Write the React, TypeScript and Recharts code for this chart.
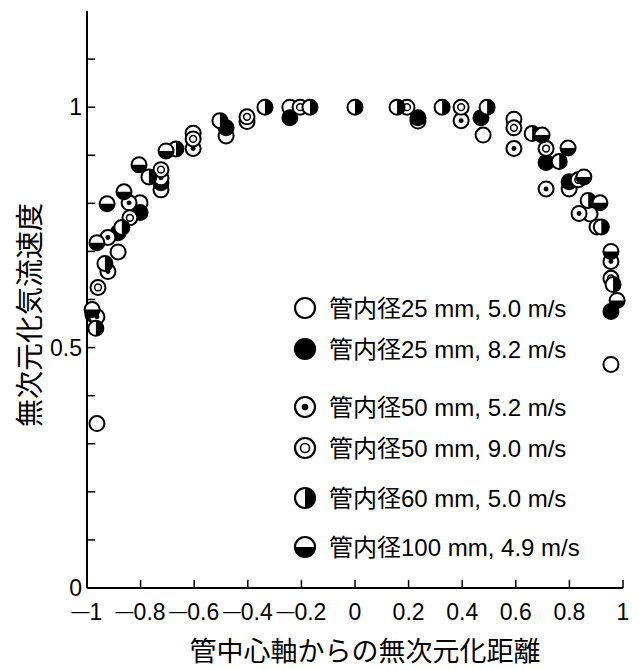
import React from 'react';
import { ScatterChart, Scatter, XAxis, YAxis } from 'recharts';

// 無次元化距離 x, 無次元化気流速度 y
const pipe25v50 = [
  [-0.963, 0.342], [-0.884, 0.699], [-0.802, 0.801], [-0.724, 0.828], [-0.604, 0.946],
  [-0.481, 0.94], [-0.243, 1.0], [0.235, 0.971], [0.478, 0.942], [0.593, 0.975],
  [0.799, 0.83], [0.877, 0.778], [0.903, 0.751], [0.955, 0.465],
];
const pipe25v82 = [
  [-0.978, 0.569], [-0.884, 0.739], [-0.802, 0.781], [-0.724, 0.843], [-0.481, 0.957],
  [-0.243, 0.978], [0.235, 0.978], [0.47, 0.978], [0.713, 0.885], [0.799, 0.845], [0.955, 0.575],
];
const pipe50v52 = [
  [-0.963, 0.564], [-0.922, 0.658], [-0.922, 0.729], [-0.843, 0.801], [-0.724, 0.853],
  [-0.604, 0.914], [-0.403, 0.97], [0.396, 0.972], [0.593, 0.914], [0.713, 0.83],
  [0.836, 0.779], [0.955, 0.679],
];
const pipe50v90 = [
  [-0.959, 0.625], [-0.84, 0.77], [-0.724, 0.87], [-0.604, 0.934], [-0.403, 0.98],
  [-0.205, 1.0], [0.194, 1.0], [0.396, 1.0], [0.593, 0.957], [0.713, 0.914],
  [0.833, 0.849], [0.955, 0.644],
];
const pipe60v50 = [
  [-0.967, 0.54], [-0.933, 0.675], [-0.87, 0.75], [-0.769, 0.855], [-0.668, 0.913],
  [-0.504, 0.972], [-0.336, 1.0], [-0.168, 1.0], [0, 1.0], [0.157, 1.0], [0.325, 1.0],
  [0.493, 1.0], [0.661, 0.945], [0.762, 0.887], [0.87, 0.806], [0.919, 0.751], [0.963, 0.631],
];
const pipe100v49 = [
  [-0.981, 0.579], [-0.963, 0.718], [-0.925, 0.799], [-0.862, 0.824], [-0.806, 0.88],
  [-0.705, 0.909], [0.698, 0.942], [0.795, 0.915], [0.854, 0.855], [0.914, 0.801],
  [0.955, 0.7], [0.978, 0.598],
];

const legendLabels = [
  '管内径25 mm, 5.0 m/s',
  '管内径25 mm, 8.2 m/s',
  '管内径50 mm, 5.2 m/s',
  '管内径50 mm, 9.0 m/s',
  '管内径60 mm, 5.0 m/s',
  '管内径100 mm, 4.9 m/s',
];
const kinds = ['open', 'filled', 'dot', 'double', 'halfRight', 'halfBottom'];
const seriesList = [pipe25v50, pipe25v82, pipe50v52, pipe50v90, pipe60v50, pipe100v49];

const xTicks = [-1, -0.8, -0.6, -0.4, -0.2, 0, 0.2, 0.4, 0.6, 0.8, 1];
const yTicks = [0, 0.1, 0.2, 0.3, 0.4, 0.5, 0.6, 0.7, 0.8, 0.9, 1, 1.1];
const yLabeled = [0, 0.5, 1];

const FONT = '"Liberation Sans", Arial, "Noto Sans CJK JP", sans-serif';

const Marker = ({ cx, cy, kind, r = 7.5, sw = 2 }: any) => {
  if (cx == null || cy == null) return null;
  const ring = <circle cx={cx} cy={cy} r={r} fill="#fff" stroke="#000" strokeWidth={sw} />;
  if (kind === 'filled') return <circle cx={cx} cy={cy} r={r} fill="#000" stroke="#000" strokeWidth={sw} />;
  if (kind === 'dot')
    return (
      <g>
        {ring}
        <circle cx={cx} cy={cy} r={r * 0.33} fill="#000" />
      </g>
    );
  if (kind === 'double')
    return (
      <g>
        {ring}
        <circle cx={cx} cy={cy} r={r * 0.45} fill="none" stroke="#000" strokeWidth={sw * 0.75} />
      </g>
    );
  if (kind === 'halfRight')
    return (
      <g>
        {ring}
        <path d={`M${cx},${cy - r} A${r},${r} 0 0 1 ${cx},${cy + r} Z`} fill="#000" />
      </g>
    );
  if (kind === 'halfBottom')
    return (
      <g>
        {ring}
        <path d={`M${cx - r},${cy} A${r},${r} 0 0 0 ${cx + r},${cy} Z`} fill="#000" />
      </g>
    );
  return ring;
};

const XTick = ({ x, y, payload }: any) => {
  const v = payload.value;
  const base = y + 16.5;
  return (
    <text x={x} y={base} textAnchor="middle" fontSize={23} fontFamily={FONT} fill="#000">
      {v < 0 ? (
        <>
          <tspan fontSize={18} dy={-3}>—</tspan>
          <tspan dy={3}>{String(Math.abs(v))}</tspan>
        </>
      ) : (
        String(v)
      )}
    </text>
  );
};

const YTick = ({ x, y, payload }: any) => {
  const v = payload.value;
  if (!yLabeled.includes(v)) return <g />;
  return (
    <text x={x} y={y + 8.3} textAnchor="end" fontSize={23} fontFamily={FONT} fill="#000">
      {String(v)}
    </text>
  );
};

const legendRows = [308, 349, 407, 448, 498, 547];

export default function App() {
  return (
    <div style={{ position: 'absolute', left: 0, top: 0, width: 639, height: 670, background: '#fff' }}>
      <ScatterChart width={639} height={670} margin={{ top: 11, right: 16, bottom: 0, left: 0 }}>
        <XAxis
          dataKey="x"
          type="number"
          domain={[-1, 1]}
          ticks={xTicks}
          height={82}
          tickSize={-8}
          tickMargin={23}
          axisLine={{ stroke: '#000', strokeWidth: 2 }}
          tickLine={{ stroke: '#000', strokeWidth: 1.5 }}
          tick={<XTick />}
          interval={0}
        />
        <XAxis
          xAxisId="top"
          orientation="top"
          type="number"
          domain={[-1, 1]}
          ticks={xTicks}
          height={0}
          tickSize={-8}
          axisLine={{ stroke: '#000', strokeWidth: 2 }}
          tickLine={{ stroke: '#000', strokeWidth: 1.5 }}
          tick={() => <g />}
          interval={0}
        />
        <YAxis
          dataKey="y"
          type="number"
          domain={[0, 1.2]}
          ticks={yTicks}
          width={87}
          tickSize={-8}
          tickMargin={13}
          axisLine={{ stroke: '#000', strokeWidth: 2 }}
          tickLine={{ stroke: '#000', strokeWidth: 1.5 }}
          tick={<YTick />}
          interval={0}
        />
        <YAxis
          yAxisId="right"
          orientation="right"
          type="number"
          domain={[0, 1.2]}
          ticks={yTicks}
          width={0}
          tickSize={-8}
          axisLine={{ stroke: '#000', strokeWidth: 2 }}
          tickLine={{ stroke: '#000', strokeWidth: 1.5 }}
          tick={() => <g />}
          interval={0}
        />
        {seriesList.map((s, i) => (
          <Scatter
            key={kinds[i]}
            name={legendLabels[i]}
            data={s.map(([x, y]) => ({ x, y }))}
            isAnimationActive={false}
            shape={(p: any) => <Marker cx={p.cx} cy={p.cy} kind={kinds[i]} />}
          />
        ))}
      </ScatterChart>
      <svg width={639} height={670} style={{ position: 'absolute', left: 0, top: 0, pointerEvents: 'none' }}>
        {legendLabels.map((label, i) => (
          <g key={label}>
            <Marker cx={305} cy={legendRows[i]} kind={kinds[i]} r={10} sw={2.2} />
            <text x={329} y={legendRows[i] + 8.5} fontSize={24} fontFamily={FONT} fill="#000">
              {label}
            </text>
          </g>
        ))}
        <text
          x={40}
          y={315}
          transform="rotate(-90, 40, 315)"
          textAnchor="middle"
          fontSize={28}
          fontFamily='"Noto Sans CJK JP", sans-serif'
          fill="#000"
        >
          無次元化気流速度
        </text>
        <text x={365} y={661} textAnchor="middle" fontSize={27} fontFamily='"Noto Sans CJK JP", sans-serif' fill="#000">
          管中心軸からの無次元化距離
        </text>
      </svg>
    </div>
  );
}
